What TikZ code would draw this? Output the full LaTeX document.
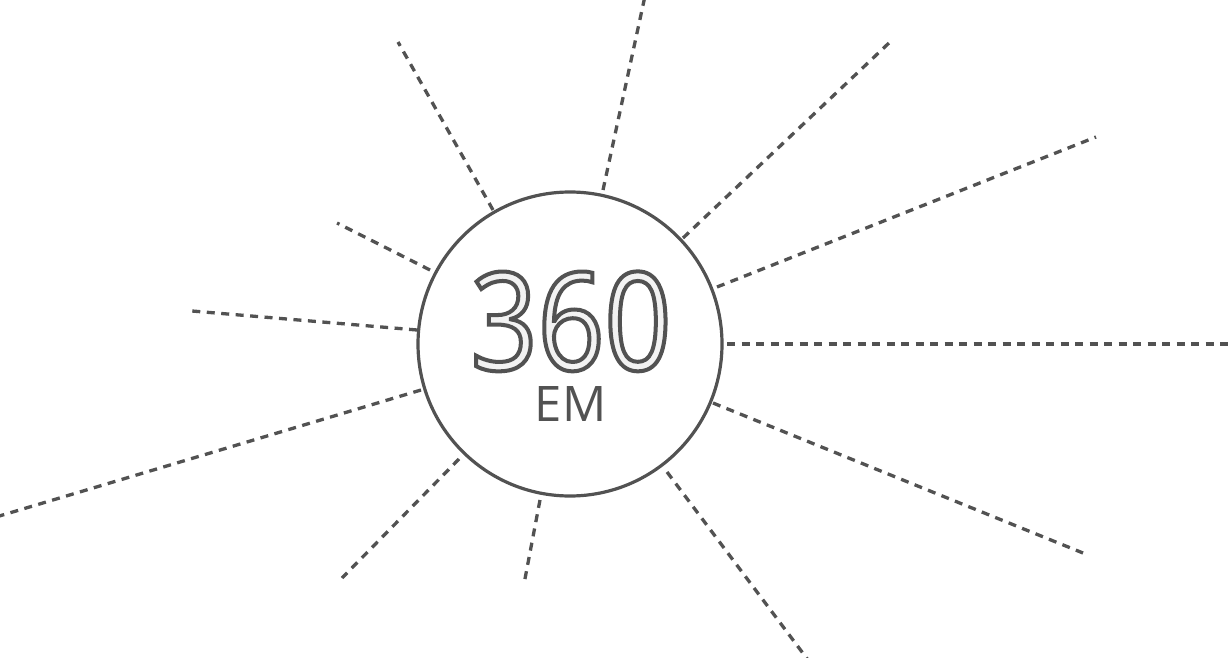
\documentclass[tikz,border=0pt]{standalone}
\usepackage{fontspec}
\setmainfont{Open Sans}
\newfontfamily\numfont[FakeStretch=0.86]{Open Sans}
\definecolor{ink}{HTML}{525252}
\definecolor{numfill}{HTML}{F2F2F2}
\tikzset{
  ray/.style={draw=ink, line width=3.3pt, dash pattern=on 8pt off 6.5pt},
  ring/.style={draw=ink, line width=3.2pt, circle, minimum size=304pt, inner sep=0pt},
}
\begin{document}
\begin{tikzpicture}[x=1pt,y=-1pt]
\useasboundingbox (0,0) rectangle (1228,658);
\node[ring] (c) at (570,344) {};
% ray end points
\coordinate (a1) at (493,210); \coordinate (b1) at (398,42);
\coordinate (a2) at (603,190); \coordinate (b2) at (645,-4);
\coordinate (a3) at (683,238); \coordinate (b3) at (890,42);
\coordinate (a4) at (717,287); \coordinate (b4) at (1096,137);
\coordinate (a5) at (727,344); \coordinate (b5) at (1232,344);
\coordinate (a6) at (713,403); \coordinate (b6) at (1083,553);
\coordinate (a7) at (667,472); \coordinate (b7) at (808,660);
\coordinate (a8) at (540,500); \coordinate (b8) at (524,584);
\coordinate (a9) at (459,459); \coordinate (b9) at (342,578);
\coordinate (a10) at (421,390); \coordinate (b10) at (-4,517);
\coordinate (a11) at (417,330); \coordinate (b11) at (192,311);
\coordinate (a12) at (430,270); \coordinate (b12) at (337,223);
\foreach \i in {1,...,12} { \draw[ray] (a\i) -- (b\i); }
\node[anchor=base, inner sep=0pt, text=ink, text height=35pt, text depth=0pt] (em) at (570.5,421) {\fontsize{49}{49}\selectfont EM};
\node[anchor=base, inner sep=0pt, text height=98pt, text depth=0pt] (num) at (571,370) {\numfont\fontsize{136}{136}\selectfont\color{numfill}\special{pdf:literal direct 2 Tr 4 w 0.322 0.322 0.322 RG}360\special{pdf:literal direct 0 Tr}};
\end{tikzpicture}
\end{document}
